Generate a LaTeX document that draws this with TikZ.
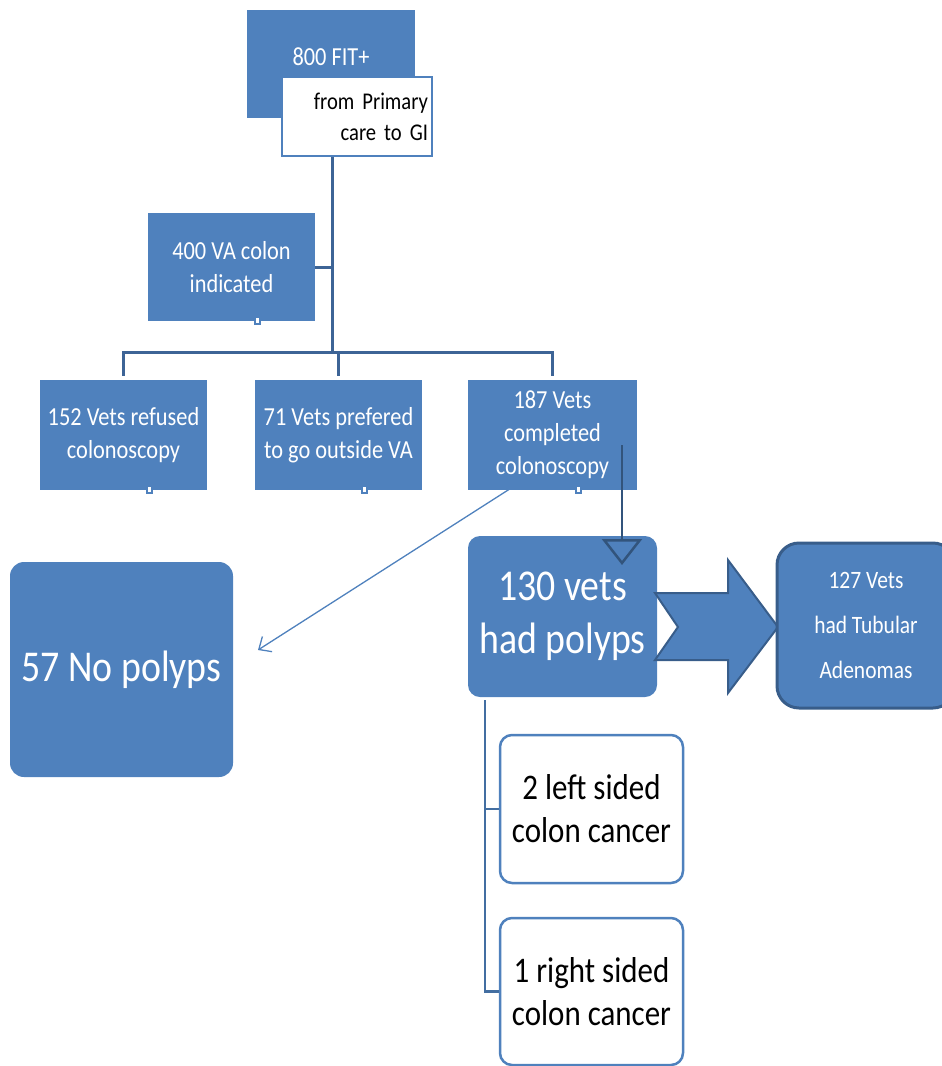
\documentclass[tikz,border=0pt]{standalone}
\usepackage{fontspec}
\setmainfont{Carlito}[FakeStretch=0.86]
\usetikzlibrary{arrows.meta,calc}
\definecolor{boxblue}{HTML}{4F81BD}
\definecolor{edgeblue}{HTML}{385D8A}
\definecolor{lineblue}{HTML}{3D6496}
\tikzset{
  bluebox/.style={fill=boxblue, text=white, align=center, inner sep=0pt},
  whitebox/.style={draw=boxblue, line width=2.5pt, fill=white, rounded corners=12pt,
    align=center, inner sep=0pt, text=black},
  tree/.style={draw=lineblue, line width=3pt},
  subtree/.style={draw=boxblue!85!black, line width=2.5pt},
  tick/.style={fill=white, draw=boxblue, line width=2pt, minimum width=5pt,
    minimum height=7pt, inner sep=0pt},
  bigtext/.style={font=\fontsize{44}{53}\selectfont},
}
\begin{document}
\begin{tikzpicture}[x=1pt, y=-1pt, font=\fontsize{26}{33}\selectfont]
  \clip (0,0) rectangle (942,1066);
  % top of the tree
  \node[bluebox, minimum width=168pt, minimum height=108pt] (fit) at (331,64) {};
  \node[text=white] (fitlbl) at (331,57) {800 FIT+};
  \node[draw=boxblue, line width=2.5pt, fill=white, align=right, inner sep=4pt,
    text width=142pt, minimum height=79pt, font=\fontsize{24}{31}\selectfont]
    (src) at (357,116.5) {from Primary\\care to GI};
  \node[bluebox, minimum width=167pt, minimum height=108pt] (ind) at (231.5,267)
    {400 VA colon\\indicated};
  % second row
  \node[bluebox, minimum width=167pt, minimum height=110pt] (ref) at (123.5,435)
    {152 Vets refused\\colonoscopy};
  \node[bluebox, minimum width=167pt, minimum height=110pt] (out) at (338.5,435)
    {71 Vets prefered\\to go outside VA};
  \node[bluebox, minimum width=169pt, minimum height=110pt] (comp) at (552.5,435)
    {187 Vets\\completed\\colonoscopy};
  \foreach \b in {ind,ref,out,comp}
    \node[tick] (t\b) at ($(\b.south)+(26,-1)$) {};
  % results
  \node[bluebox, bigtext, rounded corners=12pt, minimum width=189pt, minimum height=161pt]
    (poly) at (562.5,616.5) {130 vets\\had polyps};
  \node[bluebox, bigtext, rounded corners=14pt, minimum width=223pt, minimum height=215pt]
    (nopol) at (121.5,669.5) {57 No polyps};
  \draw[fill=boxblue, draw=edgeblue, line width=2pt] (655,593) -- (728,593) -- (728,560)
    -- (778,627) -- (728,693) -- (728,660) -- (655,660) -- (678,627) -- cycle;
  \node[bluebox, draw=edgeblue, line width=3pt, rounded corners=22pt, minimum width=178pt,
    minimum height=165pt, font=\fontsize{25}{45}\selectfont]
    (tub) at (866,625.5) {127 Vets\\had Tubular\\Adenomas};
  \node[whitebox, minimum width=183pt, minimum height=148pt, font=\fontsize{36}{43}\selectfont]
    (left) at (591.5,809) {2 left sided\\colon cancer};
  \node[whitebox, minimum width=183pt, minimum height=147pt, font=\fontsize{36}{43}\selectfont]
    (right) at (591.5,991.5) {1 right sided\\colon cancer};
  % connectors
  \coordinate (j) at (332,352);
  \draw[tree] (j |- src.south) -- (j);
  \draw[tree] (ind.east) -- (ind.east -| j);
  \draw[tree, shorten <=4pt, shorten >=4pt] (ref.north) |- (j) -| (comp.north);
  \draw[tree, shorten <=4pt] (out.north) -- (out.north |- j);
  \coordinate (a1) at (530,476);
  \coordinate (a2) at (258,650);
  \draw[draw=boxblue, line width=1.3pt, -{Straight Barb[length=10pt, width=18pt]}] (a1) -- (a2);
  \coordinate (c1) at (622,445);
  \coordinate (c2) at (622,565);
  \draw[draw=edgeblue!90!black, line width=2.5pt,
    -{Triangle[open, length=26pt, width=40pt]}] (c1) -- (c2);
  \coordinate (k) at (485,0);
  \draw[subtree] ($(k |- poly.south)+(0,3)$) |- (right.west);
  \draw[subtree] (left.west) -- (left.west -| k);
\end{tikzpicture}
\end{document}
